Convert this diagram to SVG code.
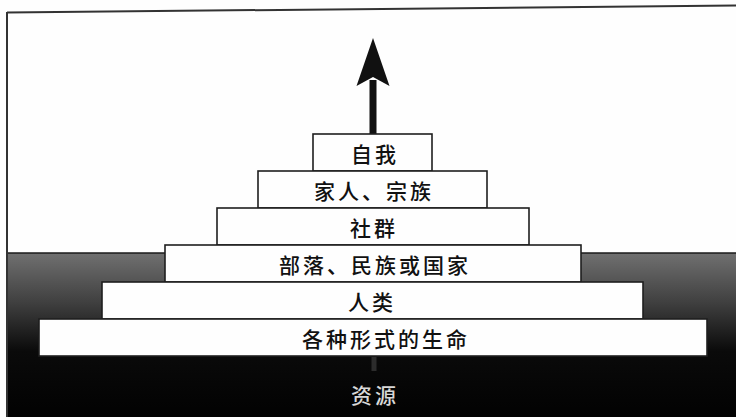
<svg xmlns="http://www.w3.org/2000/svg" width="736" height="417" viewBox="0 0 736 417">
<style>
.box{fill:#fefefe;stroke:#1e1e1e;stroke-width:1.6}
.lbl{font-family:"Noto Sans CJK SC","Noto Sans",sans-serif;font-size:21px;font-weight:500;fill:#111;text-anchor:middle;dominant-baseline:central;letter-spacing:3px}
</style>
<defs>
<linearGradient id="ground" x1="0" y1="253" x2="0" y2="417" gradientUnits="userSpaceOnUse">
<stop offset="0" stop-color="#707070"/>
<stop offset="0.3" stop-color="#404040"/>
<stop offset="0.6" stop-color="#0a0a0a"/>
<stop offset="1" stop-color="#020202"/>
</linearGradient>
<marker id="head" markerUnits="userSpaceOnUse" markerWidth="60" markerHeight="40" refX="0" refY="0" orient="auto" overflow="visible">
<path d="M42,0 L-6,16.5 L3,0 L-6,-16.5 Z" fill="#111"/>
</marker>
</defs>
<rect x="0" y="0" width="736" height="417" fill="#fefefe"/>
<rect x="7" y="253" width="729" height="164" fill="url(#ground)"/>
<line x1="7" y1="253" x2="736" y2="253" stroke="#1a1a1a" stroke-width="1.5"/>
<line x1="7" y1="12.5" x2="736" y2="5.5" stroke="#333" stroke-width="2"/>
<line x1="7" y1="12" x2="7" y2="417" stroke="#333" stroke-width="2"/>
<g id="connectors">
<line x1="373" y1="134" x2="373" y2="80" stroke="#111" stroke-width="7" marker-end="url(#head)"/>
<line x1="374" y1="357" x2="374" y2="371" stroke="#2c2c2c" stroke-width="5"/>
</g>
<g id="n1"><rect class="box" x="313" y="134" width="119" height="37"/><text class="lbl" x="375" y="153">自我</text></g>
<g id="n2"><rect class="box" x="258" y="171" width="229" height="37"/><text class="lbl" x="374" y="190">家人、宗族</text></g>
<g id="n3"><rect class="box" x="217" y="208" width="312" height="37"/><text class="lbl" x="374" y="227">社群</text></g>
<g id="n4"><rect class="box" x="165" y="245" width="416" height="37"/><text class="lbl" x="375" y="264">部落、民族或国家</text></g>
<g id="n5"><rect class="box" x="102" y="282" width="541" height="37"/><text class="lbl" x="372" y="301">人类</text></g>
<g id="n6"><rect class="box" x="39" y="319" width="668" height="37"/><text class="lbl" x="386" y="338">各种形式的生命</text></g>
<g id="n7"><text class="lbl" x="375" y="394" style="fill:#d8d8d8">资源</text></g>
</svg>
